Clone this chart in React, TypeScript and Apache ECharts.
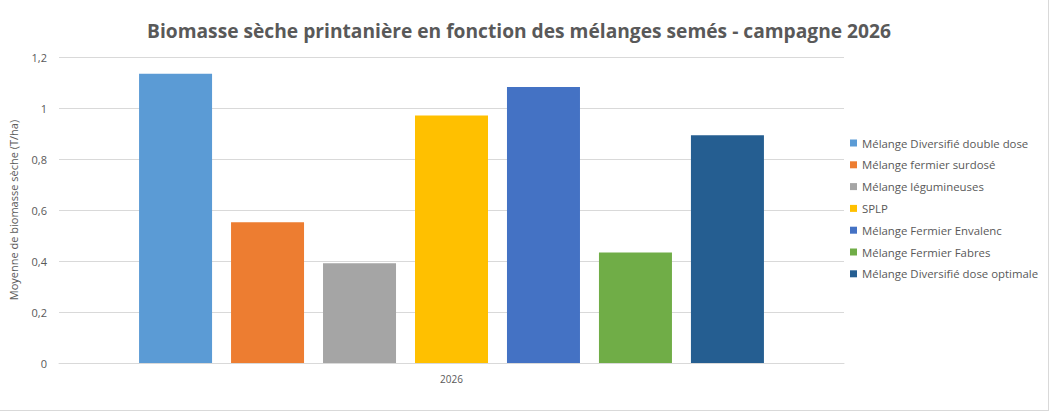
import React, { useEffect, useRef } from "react";
import * as echarts from "echarts";

const categories = ["2026"];
const seriesNames = [
  "Mélange Diversifié double dose",
  "Mélange fermier surdosé",
  "Mélange légumineuses",
  "SPLP",
  "Mélange Fermier Envalenc",
  "Mélange Fermier Fabres",
  "Mélange Diversifié dose optimale",
];
const seriesValues = [1.134, 0.552, 0.391, 0.971, 1.082, 0.433, 0.893];
const seriesColors = ["#5B9BD5", "#ED7D31", "#A5A5A5", "#FFC000", "#4472C4", "#70AD47", "#255E91"];

const FONT = "'Open Sans', 'Noto Sans', sans-serif";
const TXT = "#595959";

export default function App() {
  const ref = useRef<HTMLDivElement>(null);
  useEffect(() => {
    if (!ref.current) return;
    const chart = echarts.init(ref.current, undefined, { renderer: "svg" });
    chart.setOption({
      animation: false,
      backgroundColor: "#ffffff",
      textStyle: { fontFamily: FONT },
      title: {
        text: "Biomasse sèche printanière en fonction des mélanges semés - campagne 2026",
        left: 514,
        top: 16,
        textAlign: "center",
        textStyle: { fontFamily: FONT, fontSize: 19.2, fontWeight: "bold", color: TXT },
      },
      legend: {
        orient: "vertical",
        left: 845,
        top: 131,
        itemWidth: 7,
        itemHeight: 7,
        itemGap: 7.8,
        icon: "rect",
        data: seriesNames,
        textStyle: { fontFamily: FONT, fontSize: 11.4, color: TXT, lineHeight: 14 },
      },
      grid: { left: 58, right: 204, top: 57, bottom: 47 },
      xAxis: {
        type: "category",
        data: categories,
        axisTick: { show: false },
        axisLine: { lineStyle: { color: "#d9d9d9" } },
        axisLabel: { color: TXT, fontSize: 10, margin: 11, fontFamily: FONT },
      },
      yAxis: {
        type: "value",
        min: 0,
        max: 1.2,
        interval: 0.2,
        name: "Moyenne de biomasse sèche (T/ha)",
        nameLocation: "middle",
        nameGap: 40,
        nameTextStyle: { color: TXT, fontSize: 11, fontFamily: FONT },
        axisLine: { show: false },
        axisTick: { show: false },
        splitLine: { lineStyle: { color: "#d9d9d9" } },
        axisLabel: {
          color: TXT,
          fontSize: 11,
          margin: 12,
          fontFamily: FONT,
          formatter: (v: number) => String(Math.round(v * 10) / 10).replace(".", ","),
        },
      },
      series: seriesNames.map((name, i) => ({
        name,
        type: "bar",
        data: [seriesValues[i]],
        barWidth: 73,
        barGap: "26%",
        itemStyle: { color: seriesColors[i] },
      })),
    });
    return () => chart.dispose();
  }, []);
  return (
    <div
      ref={ref}
      style={{
        position: "fixed",
        left: 0,
        top: 0,
        width: 1049,
        height: 411,
        boxSizing: "border-box",
        borderRight: "1px solid #d9d9d9",
        borderBottom: "1px solid #d9d9d9",
      }}
    />
  );
}
